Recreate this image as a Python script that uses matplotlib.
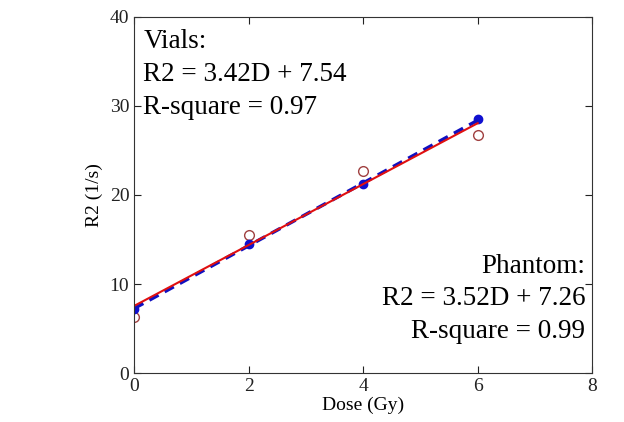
import numpy as np
import matplotlib
matplotlib.use('Agg')
import matplotlib.pyplot as plt

plt.rcParams['font.family'] = ['Liberation Serif', 'DejaVu Serif']

# dose levels (Gy)
dose = [0, 2, 4, 6]
# phantom measurements (filled blue)
r2_phantom = [7.2, 14.5, 21.2, 28.5]
# vial measurements (open circles)
r2_vials = [6.3, 15.5, 22.7, 26.7]

# linear fits: slope, intercept
fit_phantom = [3.52, 7.26]
fit_vials = [3.42, 7.54]

fig = plt.figure(figsize=(6.24, 4.22), dpi=100)
ax = fig.add_axes([0.215, 0.116, 0.734, 0.844])

xs = np.array([dose[0], dose[-1]])
ax.plot(dose, r2_vials, 'o', mfc='none', mec='#a04040', ms=7, mew=1)
ax.plot(dose, r2_phantom, 'o', color='#1010d0', ms=6)
ax.plot(xs, fit_phantom[0]*xs + fit_phantom[1], '--', color='#1010c0', lw=2.5, dashes=(3, 2))
ax.plot(xs, fit_vials[0]*xs + fit_vials[1], '-', color='#e01010', lw=1.5)

ax.set_xlim(0, 8)
ax.set_ylim(0, 40)
ax.set_xticks([0, 2, 4, 6, 8])
ax.set_yticks([0, 10, 20, 30, 40])
ax.tick_params(direction='in', top=True, right=True, labelsize=14, length=5, colors='#222222')
for s in ax.spines.values():
    s.set_color('#333333')
ax.set_xlabel('Dose (Gy)', fontsize=14, labelpad=1)
ax.set_ylabel('R2 (1/s)', fontsize=14, labelpad=5)

ax.text(0.02, 0.965, 'Vials:\nR2 = 3.42D + 7.54\nR-square = 0.97',
        transform=ax.transAxes, ha='left', va='top', fontsize=19.5, linespacing=1.4)
ax.text(0.985, 0.335, 'Phantom:\nR2 = 3.52D + 7.26\nR-square = 0.99',
        transform=ax.transAxes, ha='right', va='top', ma='right', fontsize=19.5, linespacing=1.4)

plt.savefig('out.png', dpi=100)
